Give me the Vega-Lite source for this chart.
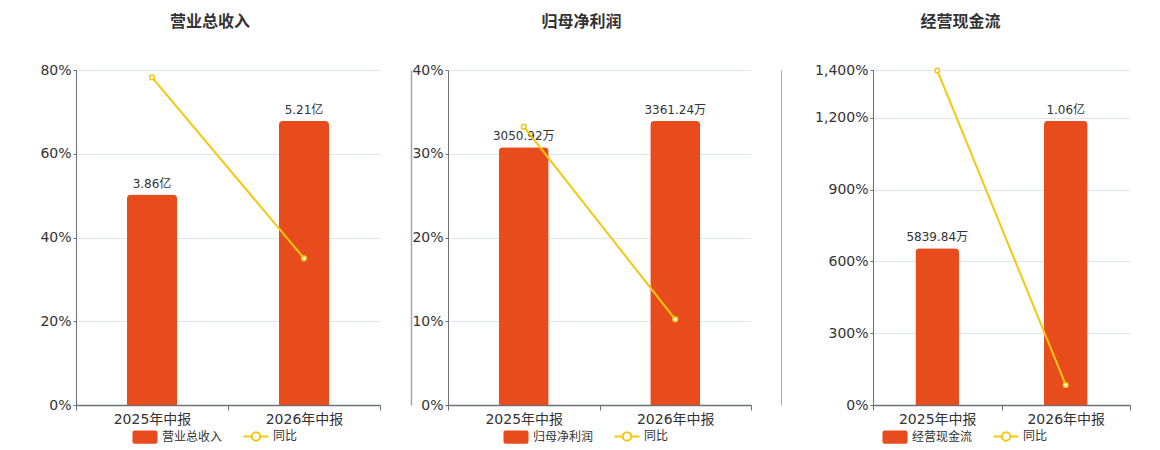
{
  "$schema": "https://vega.github.io/schema/vega-lite/v6.json",
  "description": "Three half-year panels: bar = amount, line = year-on-year %",
  "padding": {"left": 39, "top": 14, "right": 5, "bottom": 0},
  "config": {
    "font": "'DejaVu Sans', 'Noto Sans CJK SC', sans-serif",
    "view": {"stroke": null},
    "axis": {
      "labelFontSize": 14,
      "labelColor": "#333333",
      "domainColor": "#6E7079",
      "tickColor": "#6E7079",
      "gridColor": "#E0E6F1",
      "title": null
    },
    "axisX": {
      "labelAngle": 0,
      "tickBand": "extent",
      "domainWidth": 1.5,
      "tickSize": 5,
      "labelPadding": 2,
      "grid": false
    },
    "axisY": {"tickSize": 3, "labelPadding": 2},
    "legend": {
      "orient": "none",
      "direction": "horizontal",
      "labelFontSize": 12,
      "labelColor": "#333333",
      "symbolSize": 625,
      "labelOffset": 11,
      "columnPadding": 16,
      "padding": 0
    },
    "title": {
      "fontSize": 16,
      "fontWeight": "bold",
      "color": "#333333",
      "anchor": "middle",
      "frame": "group",
      "baseline": "bottom",
      "offset": 33
    }
  },
  "spacing": 30,
  "resolve": {"scale": {"color": "independent"}, "legend": {"color": "independent"}},
  "hconcat": [
    {
      "width": 304,
      "height": 335,
      "title": {"text": "营业总收入", "dx": -18},
      "data": {
        "values": [
          {"period": "2025年中报", "amount": 3.86, "label": "3.86亿", "yoy": 78.26},
          {"period": "2026年中报", "amount": 5.21, "label": "5.21亿", "yoy": 35.03}
        ]
      },
      "encoding": {
        "x": {"field": "period", "type": "nominal", "sort": null, "scale": {"paddingInner": 0, "paddingOuter": 0}}
      },
      "layer": [
        {
          "mark": {"type": "bar", "width": {"band": 0.33}, "cornerRadiusTopLeft": 4, "cornerRadiusTopRight": 4},
          "encoding": {
            "y": {"field": "amount", "type": "quantitative", "scale": {"domain": [0, 6.144], "nice": false}, "axis": null},
            "color": {"datum": "营业总收入", "type": "nominal",
              "scale": {"domain": ["营业总收入", "同比"], "range": ["#E84C1C", "#F2C811"]},
              "legend": {"title": null, "legendX": 63, "legendY": 360, "symbolSize": 625,
                "encode": {"symbols": {"update": {
                  "shape": {"signal": "datum.value === '同比' ? 'M-1,0H-0.34M0.34,0H1M0.34,0A0.34,0.34 0 1,1 -0.34,0A0.34,0.34 0 1,1 0.34,0ZM0.34,0A0.34,0.34 0 1,0 -0.34,0A0.34,0.34 0 1,0 0.34,0Z' : 'M-0.84,-0.53H0.84Q1,-0.53 1,-0.37V0.37Q1,0.53 0.84,0.53H-0.84Q-1,0.53 -1,0.37V-0.37Q-1,-0.53 -0.84,-0.53Z'"},
                  "size": {"value": 625},
                  "stroke": {"signal": "datum.value === '同比' ? '#F2C811' : '#E84C1C'"},
                  "strokeWidth": {"signal": "datum.value === '同比' ? 2 : 0"},
                  "opacity": {"value": 1}
                }}}}}
          }
        },
        {
          "mark": {"type": "text", "dy": -7, "baseline": "alphabetic", "fontSize": 12, "color": "#333333"},
          "encoding": {
            "y": {"field": "amount", "type": "quantitative", "scale": {"domain": [0, 6.144], "nice": false}, "axis": null},
            "text": {"field": "label"}
          }
        },
        {
          "mark": {"type": "line", "strokeWidth": 2, "point": {"filled": false, "fill": "#ffffff", "size": 22, "strokeWidth": 1.5}},
          "encoding": {
            "y": {"field": "yoy", "type": "quantitative", "scale": {"domain": [0, 80], "nice": false},
              "axis": {"orient": "left", "grid": true, "values": [0, 20, 40, 60, 80], "labelExpr": "datum.value + '%'"}},
            "color": {"datum": "同比", "type": "nominal"}
          }
        }
      ],
      "resolve": {"scale": {"y": "independent"}}
    },
    {
      "width": 303,
      "height": 335,
      "title": {"text": "归母净利润", "dx": -18},
      "data": {
        "values": [
          {"period": "2025年中报", "amount": 3050.92, "label": "3050.92万", "yoy": 33.23},
          {"period": "2026年中报", "amount": 3361.24, "label": "3361.24万", "yoy": 10.23}
        ]
      },
      "encoding": {
        "x": {"field": "period", "type": "nominal", "sort": null, "scale": {"paddingInner": 0, "paddingOuter": 0}}
      },
      "layer": [
        {
          "mark": {"type": "bar", "width": {"band": 0.33}, "cornerRadiusTopLeft": 4, "cornerRadiusTopRight": 4},
          "encoding": {
            "y": {"field": "amount", "type": "quantitative", "scale": {"domain": [0, 3964], "nice": false},
              "axis": {"orient": "right", "offset": 30, "domain": true, "labels": false, "ticks": false, "grid": false, "domainColor": "#aaaaaa", "domainWidth": 1}},
            "color": {"datum": "归母净利润", "type": "nominal",
              "scale": {"domain": ["归母净利润", "同比"], "range": ["#E84C1C", "#F2C811"]},
              "legend": {"title": null, "legendX": 62, "legendY": 360, "symbolSize": 625,
                "encode": {"symbols": {"update": {
                  "shape": {"signal": "datum.value === '同比' ? 'M-1,0H-0.34M0.34,0H1M0.34,0A0.34,0.34 0 1,1 -0.34,0A0.34,0.34 0 1,1 0.34,0ZM0.34,0A0.34,0.34 0 1,0 -0.34,0A0.34,0.34 0 1,0 0.34,0Z' : 'M-0.84,-0.53H0.84Q1,-0.53 1,-0.37V0.37Q1,0.53 0.84,0.53H-0.84Q-1,0.53 -1,0.37V-0.37Q-1,-0.53 -0.84,-0.53Z'"},
                  "size": {"value": 625},
                  "stroke": {"signal": "datum.value === '同比' ? '#F2C811' : '#E84C1C'"},
                  "strokeWidth": {"signal": "datum.value === '同比' ? 2 : 0"},
                  "opacity": {"value": 1}
                }}}}}
          }
        },
        {
          "mark": {"type": "text", "dy": -7, "baseline": "alphabetic", "fontSize": 12, "color": "#333333"},
          "encoding": {
            "y": {"field": "amount", "type": "quantitative", "scale": {"domain": [0, 3964], "nice": false},
              "axis": {"orient": "left", "offset": 37, "domain": true, "labels": false, "ticks": false, "grid": false, "domainColor": "#a6a6a6", "domainWidth": 1.5}},
            "text": {"field": "label"}
          }
        },
        {
          "mark": {"type": "line", "strokeWidth": 2, "point": {"filled": false, "fill": "#ffffff", "size": 22, "strokeWidth": 1.5}},
          "encoding": {
            "y": {"field": "yoy", "type": "quantitative", "scale": {"domain": [0, 40], "nice": false},
              "axis": {"orient": "left", "grid": true, "values": [0, 10, 20, 30, 40], "labelExpr": "datum.value + '%'"}},
            "color": {"datum": "同比", "type": "nominal"}
          }
        }
      ],
      "resolve": {"scale": {"y": "independent"}}
    },
    {
      "width": 257,
      "height": 335,
      "title": {"text": "经营现金流", "dx": -41},
      "data": {
        "values": [
          {"period": "2025年中报", "amount": 0.583984, "label": "5839.84万", "yoy": 1398},
          {"period": "2026年中报", "amount": 1.06, "label": "1.06亿", "yoy": 83.6}
        ]
      },
      "encoding": {
        "x": {"field": "period", "type": "nominal", "sort": null, "scale": {"paddingInner": 0, "paddingOuter": 0}}
      },
      "layer": [
        {
          "mark": {"type": "bar", "width": {"band": 0.34}, "cornerRadiusTopLeft": 4, "cornerRadiusTopRight": 4},
          "encoding": {
            "y": {"field": "amount", "type": "quantitative", "scale": {"domain": [0, 1.249], "nice": false}, "axis": null},
            "color": {"datum": "经营现金流", "type": "nominal",
              "scale": {"domain": ["经营现金流", "同比"], "range": ["#E84C1C", "#F2C811"]},
              "legend": {"title": null, "legendX": 16, "legendY": 360, "symbolSize": 625,
                "encode": {"symbols": {"update": {
                  "shape": {"signal": "datum.value === '同比' ? 'M-1,0H-0.34M0.34,0H1M0.34,0A0.34,0.34 0 1,1 -0.34,0A0.34,0.34 0 1,1 0.34,0ZM0.34,0A0.34,0.34 0 1,0 -0.34,0A0.34,0.34 0 1,0 0.34,0Z' : 'M-0.84,-0.53H0.84Q1,-0.53 1,-0.37V0.37Q1,0.53 0.84,0.53H-0.84Q-1,0.53 -1,0.37V-0.37Q-1,-0.53 -0.84,-0.53Z'"},
                  "size": {"value": 625},
                  "stroke": {"signal": "datum.value === '同比' ? '#F2C811' : '#E84C1C'"},
                  "strokeWidth": {"signal": "datum.value === '同比' ? 2 : 0"},
                  "opacity": {"value": 1}
                }}}}}
          }
        },
        {
          "mark": {"type": "text", "dy": -7, "baseline": "alphabetic", "fontSize": 12, "color": "#333333"},
          "encoding": {
            "y": {"field": "amount", "type": "quantitative", "scale": {"domain": [0, 1.249], "nice": false}, "axis": null},
            "text": {"field": "label"}
          }
        },
        {
          "mark": {"type": "line", "strokeWidth": 2, "point": {"filled": false, "fill": "#ffffff", "size": 22, "strokeWidth": 1.5}},
          "encoding": {
            "y": {"field": "yoy", "type": "quantitative", "scale": {"domain": [0, 1400], "nice": false},
              "axis": {"orient": "left", "grid": true, "values": [0, 300, 600, 900, 1200, 1400], "labelExpr": "format(datum.value, ',') + '%'",
                "title": " ", "titleFontSize": 1, "titleColor": "#ffffff", "titlePadding": 0, "minExtent": 61}},
            "color": {"datum": "同比", "type": "nominal"}
          }
        }
      ],
      "resolve": {"scale": {"y": "independent"}}
    }
  ]
}
